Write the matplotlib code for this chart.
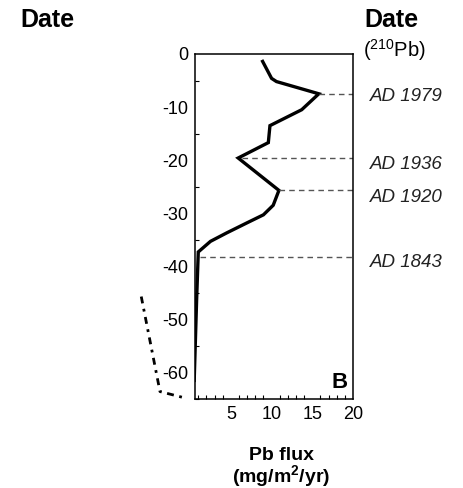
import matplotlib
matplotlib.use('Agg')
import matplotlib.pyplot as plt
from matplotlib.ticker import MultipleLocator

plt.rcParams['font.family'] = ['Liberation Sans', 'DejaVu Sans']
plt.rcParams['axes.unicode_minus'] = False
plt.rcParams['mathtext.default'] = 'regular'

# Pb flux profile (mg/m2/yr) vs depth (cm)
pb_flux = [8.9, 10.0, 10.6, 15.8, 13.7, 9.8, 9.6, 5.9, 10.9, 10.2, 9.0, 7.0, 4.5, 2.5, 1.0, 0.8, 0.5]
depth = [-1.4, -4.6, -5.2, -7.5, -10.5, -13.5, -16.7, -19.6, -25.7, -28.5, -30.3, -31.8, -33.7, -35.3, -37.3, -46.2, -61.5]

# 210Pb date markers
date_labels = ['AD 1979', 'AD 1936', 'AD 1920', 'AD 1843']
date_depth = [-7.5, -19.6, -25.7, -38.2]
date_start = [15.8, 6.4, 10.9, 1.2]
label_depth = [-8.8, -21.6, -27.8, -40.2]

# trace of neighbouring panel (A), cut off at the left
panel_a_flux = [-6.0, -3.7, -0.4]
panel_a_depth = [-45.7, -63.6, -64.9]

fig = plt.figure(figsize=(4.63, 4.88), dpi=100)
ax = fig.add_axes([0.4212, 0.1824, 0.3413, 0.7070])

ax.plot(pb_flux, depth, color='black', lw=2.4, solid_joinstyle='miter')
for d, x0 in zip(date_depth, date_start):
    ax.plot([x0, 20], [d, d], color='#555555', lw=1.0, linestyle=(0, (4, 3)))
for lab, d in zip(date_labels, label_depth):
    ax.text(22.1, d, lab, fontsize=13.5, style='italic', va='baseline', ha='left', color='#222222')

ax.plot(panel_a_flux, panel_a_depth, color='black', lw=2, linestyle=(0, (2.5, 2, 1, 2)), clip_on=False)

ax.set_xlim(0.6, 20)
ax.set_ylim(-65, 0)
ax.set_xticks([5, 10, 15, 20])
ax.set_yticks([0, -10, -20, -30, -40, -50, -60])
ax.xaxis.set_minor_locator(MultipleLocator(1))
ax.yaxis.set_minor_locator(MultipleLocator(5))
ax.tick_params(which='both', direction='in', labelsize=13)
ax.tick_params(which='major', length=0, pad=5)
ax.tick_params(which='minor', length=3, width=0.8)
ax.tick_params(axis='x', which='minor', top=False)
ax.tick_params(axis='y', which='minor', right=False)
for s in ax.spines.values():
    s.set_linewidth(1.1)

ax.text(19.3, -63.8, 'B', fontsize=16, fontweight='bold', ha='right', va='bottom')

fig.text(0.045, 0.9447, 'Date', fontsize=18, fontweight='bold', ha='left', va='baseline')
fig.text(0.786, 0.9447, 'Date', fontsize=18, fontweight='bold', ha='left', va='baseline')
fig.text(0.784, 0.884, '($^{210}$Pb)', fontsize=14.5, ha='left', va='baseline')

fig.text(0.607, 0.0574, 'Pb flux', fontsize=14, fontweight='bold', ha='center', va='baseline')
fig.text(0.607, 0.0123, '(mg/m$^{2}$/yr)', fontsize=14, fontweight='bold', ha='center', va='baseline')

fig.savefig('out.png', dpi=100)
